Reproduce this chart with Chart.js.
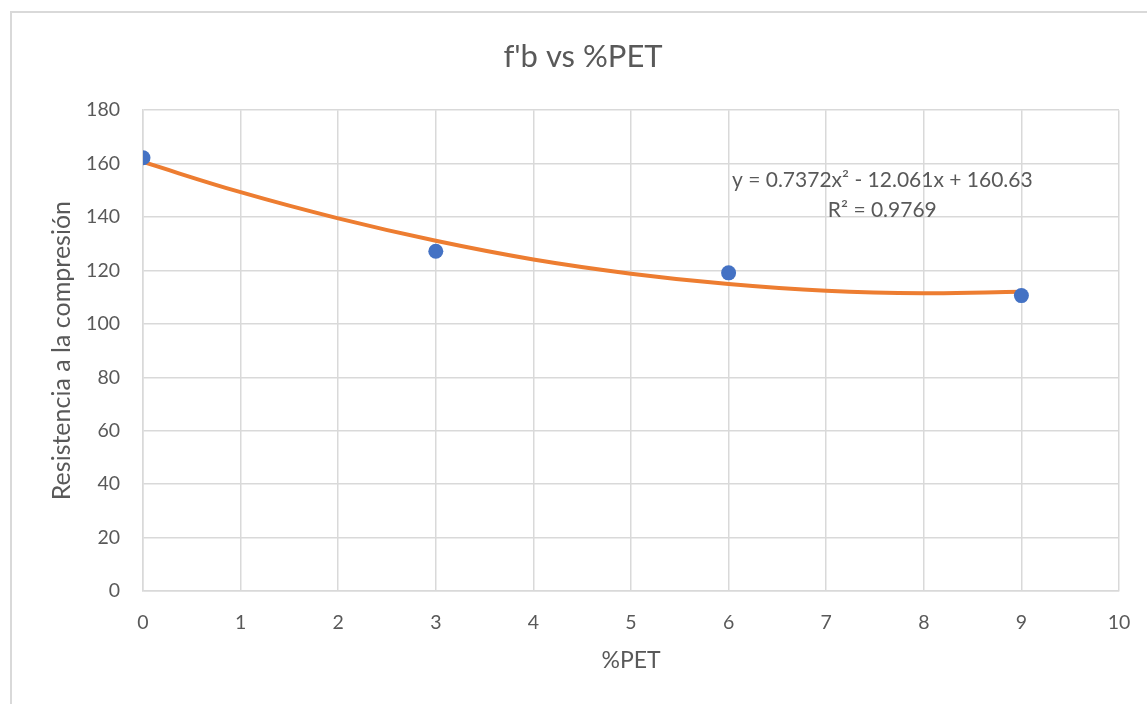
<!DOCTYPE html>
<html>
<head>
<meta charset="utf-8">
<script src="https://cdn.jsdelivr.net/npm/chart.js@4"></script>
<style>
    html, body { margin: 0; padding: 0; background: #ffffff; overflow: hidden; }
    #frame {
        position: absolute; left: 10px; top: 11px;
        width: 1160px; height: 720px;
        border: 2px solid #d9d9d9;
        box-sizing: border-box;
    }
    #wrap { position: absolute; left: 0; top: 0; width: 1147px; height: 704px; }
</style>
</head>
<body>
<div id="frame"></div>
<div id="wrap"><canvas id="petChart" width="1147" height="704"></canvas></div>
<script>
// measured points
const petPercent = [0, 3, 6, 9];
const strength = [162.2, 127.2, 119.1, 110.6];

// trend line
const trendX = [0, 1, 2, 3, 4, 5, 6, 7, 8, 9];
const trendY = [160.6, 149.3, 139.5, 131.1, 124.1, 118.8, 114.9, 112.4, 111.5, 112.0];

const equationLines = ['y = 0.7372x² - 12.061x + 160.63', 'R² = 0.9769'];

const textColor = '#595959';
const gridColor = '#d9d9d9';
const fontFamily = 'Lato, "Open Sans", sans-serif';

// equation label, anchored in data units
const equationLabel = {
    id: 'equationLabel',
    afterDatasetsDraw(chart) {
        const { ctx, scales } = chart;
        const cx = scales.x.getPixelForValue(7.575);
        const cy = scales.y.getPixelForValue(153.7);
        ctx.save();
        ctx.font = '21px ' + fontFamily;
        ctx.fillStyle = textColor;
        ctx.textAlign = 'center';
        ctx.textBaseline = 'middle';
        equationLines.forEach((line, i) => {
            ctx.fillText(line, cx, cy + i * 30);
        });
        ctx.restore();
    }
};

function toPoints(xs, ys) {
    return xs.map((x, i) => ({ x: x, y: ys[i] }));
}

const ctx = document.getElementById('petChart').getContext('2d');
new Chart(ctx, {
    type: 'scatter',
    data: {
        datasets: [
            {
                label: 'Polinómica',
                data: toPoints(trendX, trendY),
                showLine: true,
                borderColor: '#ed7d31',
                borderWidth: 4,
                pointRadius: 0,
                tension: 0.4,
                order: 2
            },
            {
                label: "f'b",
                data: toPoints(petPercent, strength),
                backgroundColor: '#4472c4',
                borderColor: '#4472c4',
                borderWidth: 0,
                pointRadius: 7.5,
                order: 1
            }
        ]
    },
    options: {
        responsive: false,
        animation: false,
        layout: { padding: { left: 47, right: 28, top: 0, bottom: 0 } },
        plugins: {
            legend: { display: false },
            tooltip: { enabled: false },
            title: {
                display: true,
                text: "f'b vs %PET",
                color: textColor,
                font: { family: fontFamily, size: 31, weight: 'normal' },
                padding: { top: 38, bottom: 35 }
            }
        },
        scales: {
            x: {
                type: 'linear',
                min: 0,
                max: 10,
                afterFit(scale) {
                    scale.height = 113;
                    scale.paddingLeft = 0;
                    scale.paddingRight = 0;
                },
                ticks: {
                    stepSize: 1,
                    color: textColor,
                    padding: 20,
                    font: { family: fontFamily, size: 19.5 }
                },
                grid: { color: gridColor, lineWidth: 1.5, drawTicks: false },
                border: { color: gridColor, width: 1.5 },
                title: {
                    display: true,
                    text: '%PET',
                    color: textColor,
                    font: { family: fontFamily, size: 23 },
                    padding: { top: 0, bottom: 30 }
                }
            },
            y: {
                min: 0,
                max: 180,
                afterFit(scale) { scale.width = 96; },
                ticks: {
                    stepSize: 20,
                    color: textColor,
                    padding: 23,
                    font: { family: fontFamily, size: 19.5 }
                },
                grid: { color: gridColor, lineWidth: 1.5, drawTicks: false },
                border: { color: gridColor, width: 1.5 },
                title: {
                    display: true,
                    text: 'Resistencia a la compresión',
                    color: textColor,
                    font: { family: fontFamily, size: 25 },
                    padding: { top: 0, bottom: 0 }
                }
            }
        }
    },
    plugins: [equationLabel]
});
</script>
</body>
</html>
